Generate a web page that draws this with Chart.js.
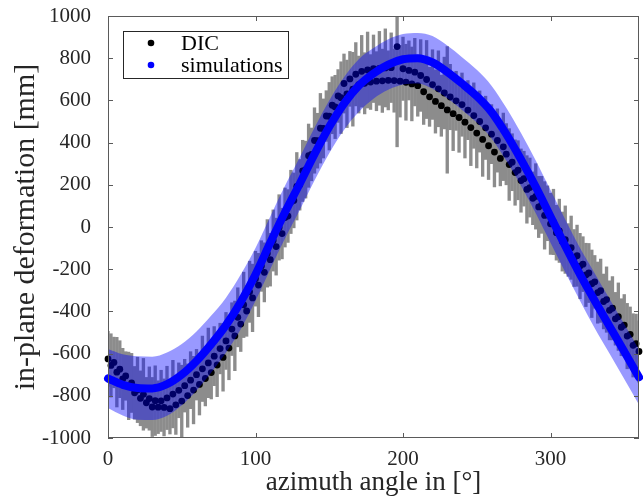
<!DOCTYPE html>
<html>
<head>
<meta charset="utf-8">
<script src="https://cdn.jsdelivr.net/npm/chart.js"></script>
<style>
  html, body { margin: 0; padding: 0; background: #fff; }
  #wrap { width: 643px; height: 499px; position: relative; }
</style>
</head>
<body>
<div id="wrap"><canvas id="deformation-chart"></canvas></div>
<script>
// ---------------------------- Data ---------------------------- //
const series_labels = [ "DIC", "simulations" ];
const x_ticks = [ 0, 100, 200, 300 ];
const y_ticks = [ -1000, -800, -600, -400, -200, 0, 200, 400, 600, 800, 1000 ];

// DIC measurement, one value every 2 degrees (0..360)
const dic_values = [
    -625, -656, -642, -688, -674, -720, -706, -753, -739, -786,
    -772, -812, -793, -833, -813, -853, -823, -854, -824, -855,
    -810, -861, -792, -843, -774, -825, -752, -799, -726, -773,
    -700, -746, -672, -718, -644, -690, -612, -654, -576, -618,
    -540, -574, -484, -516, -428, -460, -369, -398, -307, -336,
    -245, -275, -185, -215, -125, -155, -64, -93, -2, -31,
    45, 52, 119, 126, 193, 200, 266, 272, 338, 344,
    410, 409, 468, 467, 526, 525, 577, 569, 621, 613,
    680, 631, 702, 653, 724, 675, 738, 681, 744, 687,
    750, 691, 752, 693, 754, 695, 755, 694, 855, 691,
    750, 686, 742, 678, 734, 670, 718, 641, 699, 617,
    675, 595, 655, 575, 635, 555, 616, 537, 598, 519,
    580, 497, 554, 471, 528, 445, 500, 415, 470, 385,
    440, 355, 410, 325, 380, 345, 296, 307, 258, 269,
    220, 229, 178, 187, 136, 145, 95, 105, 55, 65,
    15, 24, -27, -18, -69, -60, -109, -98, -147, -136,
    -185, -176, -227, -218, -269, -260, -311, -302, -353, -344,
    -395, -385, -435, -425, -475, -465, -517, -509, -561, -553,
    -590
];
// half length of the grey error bar of each DIC point
const dic_errors = [
    130, 150, 120, 165, 135, 145, 115, 160, 140, 125,
    155, 130, 170, 120, 150, 140, 165, 125, 145, 135,
    150, 120, 160, 140, 130, 170, 125, 150, 135, 160,
    120, 145, 155, 130, 165, 125, 140, 150, 120, 160,
    135, 150, 125, 165, 140, 130, 155, 120, 145, 160,
    130, 150, 120, 140, 160, 125, 145, 135, 155, 120,
    140, 125, 150, 130, 160, 120, 145, 135, 150, 125,
    155, 130, 165, 140, 120, 160, 135, 150, 125, 170,
    140, 160, 130, 175, 150, 135, 170, 145, 180, 130,
    160, 140, 175, 150, 185, 140, 165, 150, 475, 170,
    150, 180, 140, 175, 160, 145, 170, 155, 185, 140,
    165, 150, 180, 145, 170, 300, 155, 175, 140, 165,
    150, 170, 140, 180, 155, 165, 145, 175, 150, 160,
    140, 165, 150, 130, 160, 145, 170, 135, 155, 140,
    150, 130, 160, 140, 125, 155, 145, 135, 160, 130,
    145, 155, 130, 150, 140, 160, 125, 150, 135, 145,
    155, 130, 150, 140, 160, 125, 145, 150, 130, 155,
    140, 150, 125, 160, 135, 145, 155, 130, 150, 140,
    145
];

// simulation, one value every 10 degrees (0..360)
const sim_values = [
    -718, -748, -763, -765, -745, -700, -635, -555, -465, -355,
    -225, -75, 70, 205, 345, 475, 585, 670, 728, 770,
    795, 800, 780, 735, 680, 620, 545, 440, 320, 190,
    50, -90, -225, -350, -470, -590, -712
];
const sim_errors = [
    140, 145, 150, 150, 150, 145, 140, 135, 130, 130,
    125, 125, 125, 125, 125, 125, 125, 125, 120, 120,
    120, 120, 125, 125, 125, 125, 125, 125, 125, 125,
    125, 125, 125, 130, 130, 130, 130
];

const dic_angles = dic_values.map( ( v, i ) => i * 2 );
const sim_angles = sim_values.map( ( v, i ) => i * 10 );

// ---------------------------- Datasets ---------------------------- //
const dic_bars = dic_values.map( ( v, i ) => ( { x: dic_angles[ i ], y: [ v - dic_errors[ i ], v + dic_errors[ i ] ] } ) );
const dic_points = dic_values.map( ( v, i ) => ( { x: dic_angles[ i ], y: v } ) );
const sim_points = sim_values.map( ( v, i ) => ( { x: sim_angles[ i ], y: v } ) );
const sim_low = sim_values.map( ( v, i ) => ( { x: sim_angles[ i ], y: v - sim_errors[ i ] } ) );
const sim_high = sim_values.map( ( v, i ) => ( { x: sim_angles[ i ], y: v + sim_errors[ i ] } ) );

const serif = "'Liberation Serif', 'Times New Roman', serif";
const text_color = '#262626';

// box round the axes with inward ticks, like matlab
const matlab_box = {
    id: 'matlab_box',
    afterDatasetsDraw( chart ) {
        const ctx = chart.ctx;
        const a = chart.chartArea;
        const xs = chart.scales.x;
        const ys = chart.scales.y;
        ctx.save();
        ctx.strokeStyle = '#5a5a5a';
        ctx.lineWidth = 1;
        ctx.strokeRect( a.left + 0.5, a.top + 0.5, a.right - a.left - 1, a.bottom - a.top - 1 );
        ctx.beginPath();
        x_ticks.forEach( v => {
            const px = Math.round( xs.getPixelForValue( v ) ) + 0.5;
            ctx.moveTo( px, a.bottom );
            ctx.lineTo( px, a.bottom - 5 );
            ctx.moveTo( px, a.top );
            ctx.lineTo( px, a.top + 5 );
        } );
        y_ticks.forEach( v => {
            const py = Math.round( ys.getPixelForValue( v ) ) + 0.5;
            ctx.moveTo( a.left, py );
            ctx.lineTo( a.left + 5, py );
            ctx.moveTo( a.right, py );
            ctx.lineTo( a.right - 5, py );
        } );
        ctx.stroke();
        ctx.restore();
    }
};

// legend box in the upper left corner of the axes
const legend_box = {
    id: 'legend_box',
    afterDraw( chart ) {
        const ctx = chart.ctx;
        const a = chart.chartArea;
        const colors = [ '#000000', '#0000ff' ];
        ctx.save();
        ctx.fillStyle = '#ffffff';
        ctx.fillRect( a.left + 15, a.top + 15, 165, 47 );
        ctx.strokeStyle = '#262626';
        ctx.lineWidth = 1;
        ctx.strokeRect( a.left + 15.5, a.top + 15.5, 165, 47 );
        ctx.font = "22px " + serif;
        ctx.textBaseline = 'middle';
        ctx.textAlign = 'left';
        series_labels.forEach( ( label, i ) => {
            const cy = a.top + 27 + i * 22;
            ctx.fillStyle = colors[ i ];
            ctx.beginPath();
            ctx.arc( a.left + 43, cy, 3.3, 0, Math.PI * 2 );
            ctx.fill();
            ctx.fillStyle = '#000000';
            ctx.fillText( label, a.left + 73, cy + 1 );
        } );
        ctx.restore();
    }
};

// ---------------------------- Chart ---------------------------- //
const deformation_chart = new Chart( document.getElementById( "deformation-chart" ),
{
    type: 'scatter',
    data: {
        datasets: [
        {
            type: 'bar',
            data: dic_bars,
            backgroundColor: '#8c8c8c',
            borderWidth: 0,
            barThickness: 2.7,
            grouped: false,
            order: 5
        },
        {
            type: 'scatter',
            label: series_labels[ 0 ],
            data: dic_points,
            backgroundColor: '#000000',
            borderWidth: 0,
            pointRadius: 3.4,
            clip: false,
            order: 4
        },
        {
            type: 'line',
            data: sim_low,
            borderWidth: 0,
            pointRadius: 0,
            cubicInterpolationMode: 'monotone',
            fill: false,
            order: 3
        },
        {
            type: 'line',
            data: sim_high,
            borderWidth: 0,
            pointRadius: 0,
            cubicInterpolationMode: 'monotone',
            backgroundColor: 'rgba(0, 0, 255, 0.4)',
            fill: '-1',
            order: 2
        },
        {
            type: 'line',
            label: series_labels[ 1 ],
            data: sim_points,
            borderColor: '#0000ff',
            borderWidth: 8,
            borderCapStyle: 'round',
            pointRadius: 0,
            cubicInterpolationMode: 'monotone',
            fill: false,
            clip: false,
            order: 1
        } ]
    },
    options: {
        responsive: true,
        maintainAspectRatio: false,
        animation: false,
        layout: { padding: { top: 16, right: 4, left: 0, bottom: 0 } },
        plugins: {
            legend: { display: false },
            tooltip: { enabled: false }
        },
        scales: {
            x: {
                type: 'linear',
                min: 0,
                max: 360,
                offset: false,
                afterBuildTicks: s => { s.ticks = x_ticks.map( v => ( { value: v } ) ); },
                afterFit: s => { s.height = 61; s.paddingLeft = 0; s.paddingRight = 0; },
                grid: { display: false, drawTicks: false },
                border: { display: false },
                ticks: {
                    padding: 9,
                    color: text_color,
                    font: { family: serif, size: 21 },
                    callback: v => String( v )
                },
                title: {
                    display: true,
                    text: "azimuth angle in [°]",
                    color: text_color,
                    font: { family: serif, size: 27 },
                    padding: { top: 0, bottom: 0 }
                }
            },
            y: {
                type: 'linear',
                min: -1000,
                max: 1000,
                afterBuildTicks: s => { s.ticks = y_ticks.map( v => ( { value: v } ) ); },
                afterFit: s => { s.width = 108; s.paddingTop = 0; s.paddingBottom = 0; },
                grid: { display: false, drawTicks: false },
                border: { display: false },
                ticks: {
                    padding: 17,
                    color: text_color,
                    font: { family: serif, size: 21 },
                    callback: v => String( v )
                },
                title: {
                    display: true,
                    text: "in-plane deformation [mm]",
                    color: text_color,
                    font: { family: serif, size: 30 },
                    padding: { top: 8, bottom: 0 }
                }
            }
        }
    },
    plugins: [ matlab_box, legend_box ]
} );
</script>
</body>
</html>
